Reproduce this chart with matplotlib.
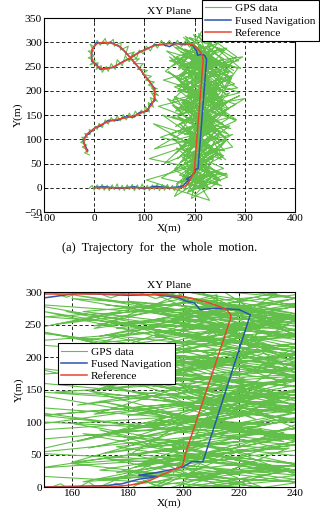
import numpy as np
import matplotlib
matplotlib.use("Agg")
import matplotlib.pyplot as plt

plt.rcParams['font.family'] = ['Liberation Serif', 'DejaVu Serif']

# reference trajectory (m)
ref_x = [-14, -19, -21, -17, -12, 0, 11, 30, 45, 62, 78, 92, 104, 114, 119, 121, 119, 114,
         108, 100, 92, 82, 72, 62, 50, 35, 18, 5, -3, -6, -4, 3, 14, 25, 40, 55, 72, 88,
         105, 120, 140, 160, 180, 192, 200, 206, 211, 215.5, 217, 217, 200.7, 199.7, 198,
         196, 192, 188, 184, 180, 176, 173.6, 165, 150, 100, 50, 0]
ref_y = [74, 86, 98, 106, 113, 122, 129, 137, 141, 144, 148, 153, 160, 170, 181, 193, 205, 214,
         222, 232, 244, 256, 268, 280, 292, 298, 300, 297, 287, 275, 263, 253, 246, 245, 250,
         258, 268, 278, 287, 293, 297, 297, 297, 296, 293, 287, 281, 273, 265, 260, 51, 33,
         29, 26, 18, 10, 5, 2.5, 1, 0, 0, 0, 0, 0, 0]

# fused navigation estimate (m)
fus_x = [-13, -18, -22, -16, -11, 2, 12, 28, 47, 60, 80, 90, 106, 112, 121, 120, 121, 112,
         110, 98, 94, 80, 74, 60, 52, 33, 19, 4, -4, -5, -5, 4, 12, 27, 38, 57, 70, 90,
         103, 122, 138, 150, 162, 180, 190, 198, 201, 204, 206, 212, 220, 224, 207, 203,
         200, 196, 190, 184, 191, 184, 178, 172, 160, 150, 120, 100, 80, 50, 20, 2]
fus_y = [76, 87, 97, 108, 111, 124, 127, 139, 139, 146, 146, 155, 158, 172, 180, 195, 204, 216,
         220, 234, 242, 258, 266, 282, 290, 300, 298, 299, 285, 277, 261, 255, 244, 247, 248,
         260, 266, 280, 285, 295, 295, 291, 298, 295, 296, 292, 286, 283, 273, 275, 273, 265,
         39, 39, 31, 27, 22, 18, 16, 12, 5, 2, 1, 0, 3, -2, 2, -1, 2, 1]

# GPS fixes along the curved part of the route (m)
gps_path_x = [-10, -19, -12, -24, -15, -27, -17, -25, -13, -19, -8, -10, -2, 2, 6, 10, 16, 22,
              28, 34, 40, 46, 52, 58, 64, 70, 76, 82, 88, 94, 100, 102, 110, 108, 118, 112,
              126, 114, 128, 114, 126, 108, 120, 102, 114, 96, 106, 86, 98, 78, 90, 70, 80,
              62, 68, 52, 54, 40, 38, 26, 22, 12, 6, 0, -8, -1, -12, 0, -12, 2, -8, 8, 4, 14,
              16, 24, 28, 34, 42, 46, 56, 62, 70, 76, 84, 90, 98, 104, 112, 120, 126, 134,
              142, 150, 158, 166, 174, 182, 190, 198, 202, 212, 208, 222, 212]
gps_path_y = [68, 72, 78, 84, 88, 94, 98, 104, 104, 112, 110, 120, 116, 127, 120, 133, 124, 140,
              131, 145, 136, 148, 138, 151, 140, 154, 143, 158, 148, 160, 152, 168, 156, 176,
              166, 186, 178, 196, 190, 206, 204, 212, 218, 222, 230, 234, 242, 244, 256, 256,
              266, 264, 280, 274, 292, 284, 300, 292, 306, 294, 308, 294, 304, 290, 296, 282,
              282, 272, 268, 262, 254, 258, 244, 252, 238, 250, 240, 256, 244, 264, 252, 272,
              260, 276, 266, 284, 276, 292, 282, 298, 288, 304, 292, 304, 292, 304, 291, 303,
              290, 300, 284, 292, 278, 280, 268]

# GPS fixes on the straight leg, badly degraded (first pass, m)
gps_cloud_x = [212, 168, 258, 190, 276, 224, 160, 242, 198, 288, 176, 234, 206, 264, 150, 220,
               186, 250, 172, 292, 208, 240, 164, 226, 270,
               184, 256, 200, 142, 232, 278, 170, 214, 262, 192, 226, 158, 248, 286, 180, 236,
               204, 268, 166, 220, 252, 188, 296, 174, 230,
               196, 260, 172, 242, 214, 280, 156, 228, 190, 268, 210, 166, 250, 184, 236, 274,
               200, 148, 222, 256, 178, 244, 206, 290, 168,
               232, 186, 270, 204, 160, 250, 218, 176, 284, 196, 240, 128, 226, 264, 182, 210,
               254, 170, 236, 198, 300, 162, 246, 214, 188,
               258, 176, 226, 200, 272, 154, 238, 190, 248, 168, 216, 282, 184, 230, 206, 262,
               172, 244, 136, 222, 194, 266, 180, 234, 210,
               166, 254, 198, 236, 150, 228, 276, 188, 244, 212, 170, 262, 200, 120, 232, 180,
               250, 216, 160, 270, 194, 240, 174, 222, 256,
               190, 236, 164, 214, 262, 182, 246, 200, 140, 228, 176, 258, 206, 160, 240, 192,
               266, 110, 224, 184, 250, 204, 170, 234, 196,
               250, 180, 222, 160, 238, 198, 264, 176, 212, 104, 230, 190, 254, 170, 216, 246,
               194, 206, 228, 184, 240, 200, 210, 196]
gps_cloud_y = [296, 248, 284, 310, 236, 272, 290, 230, 316, 262, 244, 300, 226, 288, 262, 240,
               304, 254, 280, 246, 318, 232, 270, 292, 250,
               272, 214, 290, 240, 196, 264, 222, 282, 204, 256, 232, 270, 192, 246, 286, 210,
               262, 228, 198, 280, 240, 206, 270, 252, 218,
               256, 196, 234, 170, 248, 214, 180, 258, 202, 162, 238, 210, 186, 246, 160, 226,
               200, 240, 174, 250, 212, 180, 228, 196, 164,
               214, 160, 196, 132, 188, 150, 210, 176, 140, 202, 124, 168, 194, 150, 214, 130,
               178, 200, 146, 120, 184, 158, 206, 136, 172,
               130, 180, 104, 156, 122, 146, 170, 96, 150, 112, 176, 138, 92, 160, 128, 104,
               168, 118, 150, 88, 142, 176, 110, 132, 98,
               148, 96, 126, 70, 110, 140, 84, 62, 118, 92, 132, 58, 102, 80, 146, 74, 112, 56,
               98, 128, 68, 104, 84, 122, 64,
               104, 58, 82, 40, 96, 30, 74, 108, 50, 88, 22, 66, 94, 38, 80, 56, 26, 60, 100, 34,
               70, 46, 88, 28, 62,
               18, 52, 6, 36, 60, -4, 30, 14, 48, 16, -26, 40, 4, 26, 58, 10, -22, 36, 0, 20, 8,
               30, 12, 18]

# GPS fixes on the straight leg (second pass, m)
gps_cloud2_x = [230, 178, 266, 202, 154, 248, 190, 284, 214, 168, 240, 196, 272, 160, 226, 182,
                258, 206, 144, 236, 188, 278, 220, 170, 250,
                196, 262, 176, 230, 150, 246, 210, 286, 184, 238, 164, 220, 270, 192, 254, 138,
                226, 200, 276, 172, 242, 212, 160, 264, 186,
                228, 168, 256, 200, 282, 182, 238, 146, 216, 264, 190, 234, 174, 250, 206, 290,
                162, 222, 196, 268, 180, 244, 210, 156, 236,
                272, 188, 242, 166, 224, 198, 260, 132, 214, 180, 250, 206, 162, 238, 192, 276,
                172, 230, 118, 218, 254, 186, 236, 200, 264,
                176, 234, 194, 258, 164, 220, 186, 246, 206, 134, 228, 172, 252, 198, 160, 240,
                182, 214, 266, 190, 226, 170, 238, 202, 188]
gps_cloud2_y = [262, 310, 238, 286, 250, 300, 232, 270, 322, 244, 290, 258, 228, 296, 248, 312,
                266, 236, 282, 254, 300, 242, 276, 232, 288,
                236, 194, 252, 214, 270, 180, 248, 206, 188, 260, 226, 172, 240, 216, 184, 222,
                250, 176, 232, 198, 262, 186, 208, 244, 170,
                204, 150, 188, 126, 172, 208, 138, 184, 112, 160, 196, 130, 176, 104, 150, 190,
                126, 168, 140, 110, 182, 154, 120, 170, 136,
                146, 92, 128, 60, 114, 150, 76, 104, 134, 48, 98, 122, 70, 140, 88, 110, 52, 96,
                132, 74, 58, 120, 84, 44, 100,
                62, 24, 70, 40, 8, 56, -10, 30, 66, 20, -2, 44, 14, 52, -18, 34, 4, 48, 22, -8,
                38, 12, 28, -14, 6]

# GPS fixes along the bottom leg (m)
gps_base_x = [196, 190, 186, 180, 176, 170, 166, 160, 156, 150, 146, 140, 136, 130, 126, 120,
              116, 110, 106, 100, 96, 90, 86, 80, 76, 70, 66, 60, 56, 50, 46, 40, 36, 30, 26,
              20, 16, 10, 6, 0, -4, -10]
gps_base_y = [14, 2, 10, -5, 6, -4, 8, -6, 5, -4, 7, -5, 6, -6, 8, -4, 6, -6, 5, -5, 8, -4, 6,
              -6, 7, -4, 6, -6, 5, -5, 8, -4, 6, -6, 5, -5, 7, -4, 6, -5, 5, -1]

gps_x = gps_path_x + gps_cloud_x + gps_cloud2_x + gps_base_x
gps_y = gps_path_y + gps_cloud_y + gps_cloud2_y + gps_base_y

c_gps = '#62c04a'
c_fus = '#2c54b0'
c_ref = '#e8452e'
FS = 8.2


def draw_panel(ax, xlim, ylim, xticks, yticks):
    ax.plot(gps_x, gps_y, color=c_gps, lw=0.8, label='GPS data')
    ax.plot(fus_x, fus_y, color=c_fus, lw=1.1, label='Fused Navigation')
    ax.plot(ref_x, ref_y, color=c_ref, lw=1.1, label='Reference')
    ax.set_xlim(xlim)
    ax.set_ylim(ylim)
    ax.set_xticks(xticks)
    ax.set_yticks(yticks)
    ax.grid(True, color='black', linestyle=(0, (4, 3)), linewidth=0.6)
    ax.tick_params(direction='in', labelsize=FS, length=3, width=0.6, pad=1.5,
                   top=True, right=True)
    for s in ax.spines.values():
        s.set_linewidth(0.8)
    ax.set_title('XY Plane', fontsize=FS, pad=3)
    ax.set_xlabel('X(m)', fontsize=FS, labelpad=0)
    ax.set_ylabel('Y(m)', fontsize=FS, labelpad=1)


def add_legend(ax, anchor):
    leg = ax.legend(loc='upper left', bbox_to_anchor=anchor, fontsize=FS,
                    fancybox=False, framealpha=1, edgecolor='black', borderpad=0.3,
                    labelspacing=0.2, handlelength=2.2, handletextpad=0.4, borderaxespad=0)
    leg.get_frame().set_linewidth(0.8)
    return leg


fig = plt.figure(figsize=(3.2, 5.18), dpi=100)

ax1 = fig.add_axes([0.1375, 0.5907, 0.784, 0.3745])
draw_panel(ax1, (-100, 400), (-50, 350), np.arange(-100, 401, 100), np.arange(-50, 351, 50))
add_legend(ax1, (0.63, 1.093))

fig.text(0.5, 1 - 248 / 518, '(a)  Trajectory  for  the  whole  motion.', ha='center',
         va='center', fontsize=9)

ax2 = fig.add_axes([0.1375, 0.0598, 0.784, 0.3764])
draw_panel(ax2, (150, 240), (0, 300), np.arange(160, 241, 20), np.arange(0, 301, 50))
add_legend(ax2, (0.056, 0.738))

fig.savefig('out.png', dpi=100)
